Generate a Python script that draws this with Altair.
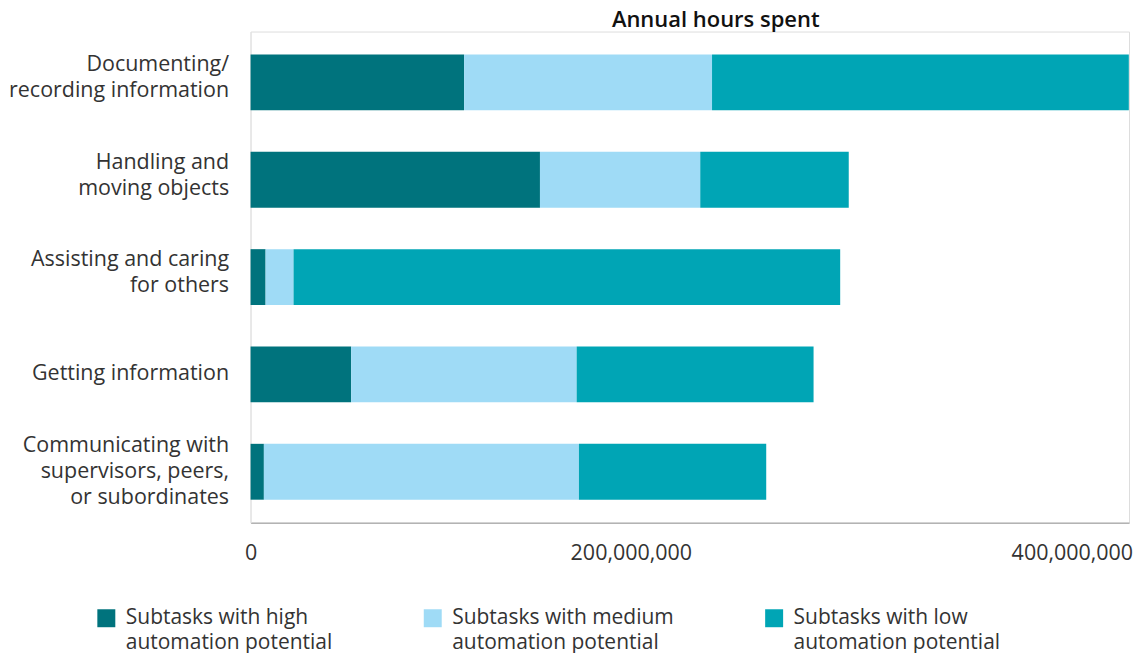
import altair as alt
import pandas as pd

categories = [
    "Documenting/|recording information",
    "Handling and|moving objects",
    "Assisting and caring|for others",
    "Getting information",
    "Communicating with|supervisors, peers,|or subordinates",
]
levels = [
    "Subtasks with high|automation potential",
    "Subtasks with medium|automation potential",
    "Subtasks with low|automation potential",
]
# annual hours, millions
high = [112.3, 152.2, 7.9, 52.9, 7.0]
medium = [130.4, 84.3, 14.7, 118.6, 165.7]
low = [219.2, 78.1, 287.5, 124.6, 98.5]
colors = ["#00737D", "#9FDBF6", "#00A5B5"]
tick_values = [0, 200000000, 400000000]

rows = []
for i, c in enumerate(categories):
    for j, vals in enumerate([high, medium, low]):
        rows.append({"activity": c, "level": levels[j], "hours": vals[i] * 1e6, "order": j})
df = pd.DataFrame(rows)

FONT = "Open Sans"
TXT = "#333333"

chart = alt.Chart(df).mark_bar().encode(
    y=alt.Y(
        "activity:N",
        sort=categories,
        scale=alt.Scale(paddingInner=0.426, paddingOuter=0.236),
        axis=alt.Axis(
            title=None,
            labelExpr="split(datum.value, '|')",
            labelFontSize=21.5,
            labelLineHeight=26,
            labelColor=TXT,
            labelFont=FONT,
            labelPadding=22,
            labelOffset={
                "condition": [
                    {"test": "length(split(datum.value, '|')) == 3", "value": -26},
                    {"test": "length(split(datum.value, '|')) == 2", "value": -17},
                ],
                "value": 0,
            },
            ticks=False,
            domainColor="#e3e3e3",
            minExtent=242,
            maxExtent=242,
            labelLimit=242,
        ),
    ),
    x=alt.X(
        "hours:Q",
        stack="zero",
        scale=alt.Scale(domain=[0, 462000000], nice=False),
        axis=alt.Axis(
            title=None,
            values=tick_values,
            format=",.0f",
            ticks=False,
            grid=False,
            labelFlush=False,
            labelPadding=20,
            labelFontSize=21.5,
            labelFont=FONT,
            labelColor=TXT,
            domainColor="#b3b3b3",
            domainWidth=1.5,
            labelAlign={"condition": {"test": "datum.value >= 400000000", "value": "left"}, "value": "center"},
        ),
    ),
    color=alt.Color(
        "level:N",
        scale=alt.Scale(domain=levels, range=colors),
        legend=alt.Legend(
            title=None,
            orient="none",
            legendX=-155,
            legendY=577,
            direction="horizontal",
            columns=3,
            columnPadding=90,
            symbolType="square",
            symbolSize=324,
            symbolStrokeWidth=0,
            symbolOpacity=1,
            labelFontSize=21,
            labelFont=FONT,
            labelColor=TXT,
            labelExpr="split(datum.label, '|')",
            labelLimit=320,
            labelOffset=9,
        ),
    ),
    order=alt.Order("order:Q"),
).properties(
    width=880,
    height=492,
    padding=0,
    title=alt.TitleParams(
        "Annual hours spent",
        fontSize=22,
        fontWeight=600,
        font=FONT,
        color="#111111",
        anchor="middle",
        dx=26,
        offset=0,
    ),
).configure_view(stroke=None).configure(
    background="white",
    style={"guide-label": {"lineHeight": 25}},
)

chart.save("out.html", embed_options={"renderer": "svg", "actions": False})
